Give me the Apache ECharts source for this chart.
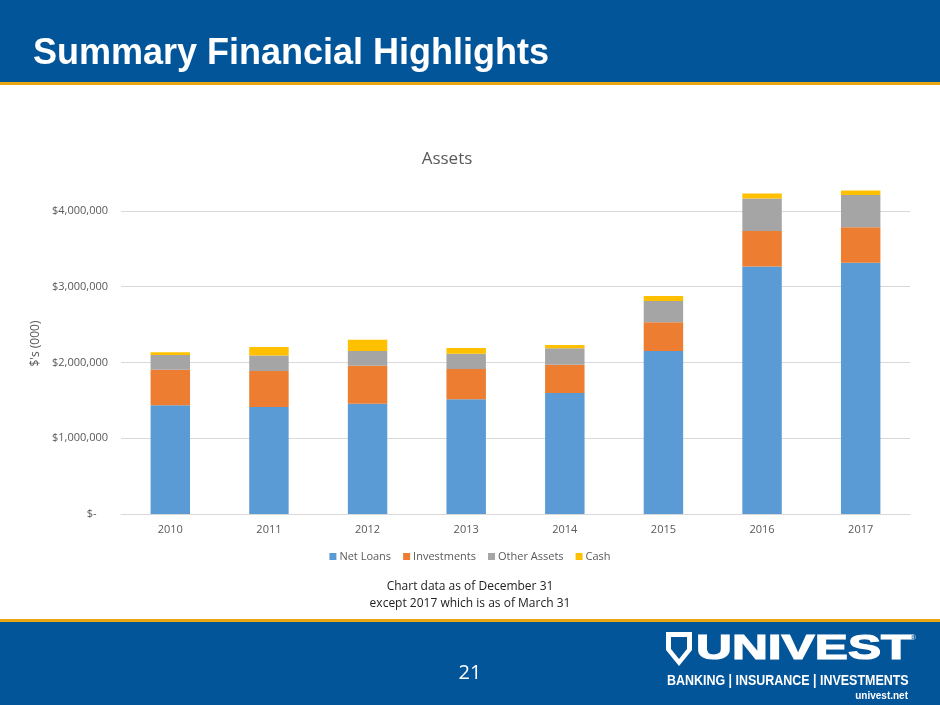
<!DOCTYPE html>
<html>
<head>
<meta charset="utf-8">
<script src="https://cdn.jsdelivr.net/npm/echarts@6/dist/echarts.min.js"></script>
<style>
html,body{margin:0;padding:0;background:#fff;}
#chart{width:940px;height:705px;}
</style>
</head>
<body>
<div id="chart"></div>
<script>
const years = ['2010','2011','2012','2013','2014','2015','2016','2017'];
const netLoans    = [1435000, 1413000, 1456000, 1514000, 1597000, 2152000, 3265000, 3314000];
const investments = [ 470000,  475000,  502000,  400000,  374000,  379000,  471000,  471000];
const otherAssets = [ 194000,  202000,  194000,  202000,  216000,  281000,  427000,  426000];
const cash        = [  36000,  115000,  149000,   75000,   44000,   66000,   66000,   57000];
const seriesNames = ['Net Loans','Investments','Other Assets','Cash'];
const yTicks = [0, 1000000, 2000000, 3000000, 4000000];

const colors = ['#5B9BD5','#ED7D31','#A5A5A5','#FFC000'];
const font = 'Open Sans';
const headerBlue = '#03559A';
const gold = '#E9A713';

const chart = echarts.init(document.getElementById('chart'), null, {renderer:'canvas'});
const fmt = v => v === 0 ? '$-    ' : '$' + v.toLocaleString('en-US');

const allSeries = [netLoans, investments, otherAssets, cash].map((d, i) => ({
  name: seriesNames[i],
  type: 'bar',
  stack: 'assets',
  barWidth: '40%',
  data: d,
  itemStyle: {color: colors[i]}
}));

chart.setOption({
  animation: false,
  textStyle: {fontFamily: font},
  color: colors,
  grid: {left: 121, right: 30, top: 173, bottom: 191},
  legend: {
    data: seriesNames,
    top: 546, left: 'center',
    itemWidth: 7, itemHeight: 7, itemGap: 12,
    icon: 'rect',
    textStyle: {color: '#595959', fontSize: 11, fontFamily: font, padding: [0,0,0,-2]}
  },
  xAxis: {
    type: 'category',
    data: years,
    axisLine: {lineStyle: {color: '#D9D9D9', width: 1}},
    axisTick: {show: false},
    axisLabel: {color: '#595959', fontSize: 11, margin: 10, fontFamily: font}
  },
  yAxis: {
    type: 'value',
    min: 0, max: 4500000, interval: 1000000,
    name: "$'s (000)",
    nameLocation: 'middle',
    nameGap: 73,
    nameRotate: 90,
    nameTextStyle: {color: '#595959', fontSize: 12, fontFamily: font},
    axisLine: {show: false},
    axisTick: {show: false},
    axisLabel: {
      color: '#595959', fontSize: 11, margin: 13, fontFamily: font,
      showMaxLabel: false,
      formatter: v => yTicks.indexOf(v) >= 0 ? fmt(v) : ''
    },
    splitLine: {show: true, showMaxLine: false, lineStyle: {color: '#D9D9D9', width: 1}}
  },
  series: allSeries,
  graphic: [
    {type: 'rect', shape: {x: 0, y: 0, width: 940, height: 83}, style: {fill: headerBlue}, z: 0},
    {type: 'rect', shape: {x: 0, y: 82, width: 940, height: 3}, style: {fill: gold}, z: 0},
    {type: 'text', x: 33, y: 54, style: {text: 'Summary Financial Highlights', fill: '#fff',
      font: 'bold 36px "Liberation Sans", Arial, sans-serif', textVerticalAlign: 'middle'}},
    {type: 'text', x: 447, y: 159, style: {text: 'Assets', fill: '#595959',
      font: '17px "Open Sans"', textAlign: 'center', textVerticalAlign: 'middle'}},
    {type: 'text', x: 470, y: 587, style: {text: 'Chart data as of December 31', fill: '#222',
      font: '12px "Open Sans"', textAlign: 'center', textVerticalAlign: 'middle'}},
    {type: 'text', x: 470, y: 604, style: {text: 'except 2017 which is as of March 31', fill: '#222',
      font: '12px "Open Sans"', textAlign: 'center', textVerticalAlign: 'middle'}},
    {type: 'rect', shape: {x: 0, y: 619, width: 940, height: 3}, style: {fill: gold}, z: 0},
    {type: 'rect', shape: {x: 0, y: 622, width: 940, height: 83}, style: {fill: headerBlue}, z: 0},
    {type: 'text', x: 470, y: 673, style: {text: '21', fill: '#fff',
      font: '20px "Open Sans"', textAlign: 'center', textVerticalAlign: 'middle'}},
    {type: 'polygon', shape: {points: [[666,632],[692,632],[692,650],[679,666],[666,650]]},
      style: {fill: '#fff'}},
    {type: 'polygon', shape: {points: [[671,637],[687,637],[687,649],[679,659],[671,649]]},
      style: {fill: headerBlue}},
    {type: 'text', x: 696, y: 649, scaleX: 1.42, style: {text: 'UNIVEST', fill: '#fff',
      stroke: '#fff', lineWidth: 1.2,
      font: 'bold 35px "Liberation Sans", Arial, sans-serif', textVerticalAlign: 'middle'}},
    {type: 'text', x: 910, y: 638, style: {text: '®', fill: '#fff',
      font: '8px "Liberation Sans"', textVerticalAlign: 'middle'}},
    {type: 'text', x: 667, y: 681, scaleX: 0.89, style: {text: 'BANKING | INSURANCE | INVESTMENTS', fill: '#fff',
      font: 'bold 14px "Liberation Sans", Arial, sans-serif', textVerticalAlign: 'middle'}},
    {type: 'text', x: 908, y: 696, style: {text: 'univest.net', fill: '#fff',
      font: 'bold 10px "Liberation Sans", Arial, sans-serif', textAlign: 'right', textVerticalAlign: 'middle'}}
  ]
});
</script>
</body>
</html>
